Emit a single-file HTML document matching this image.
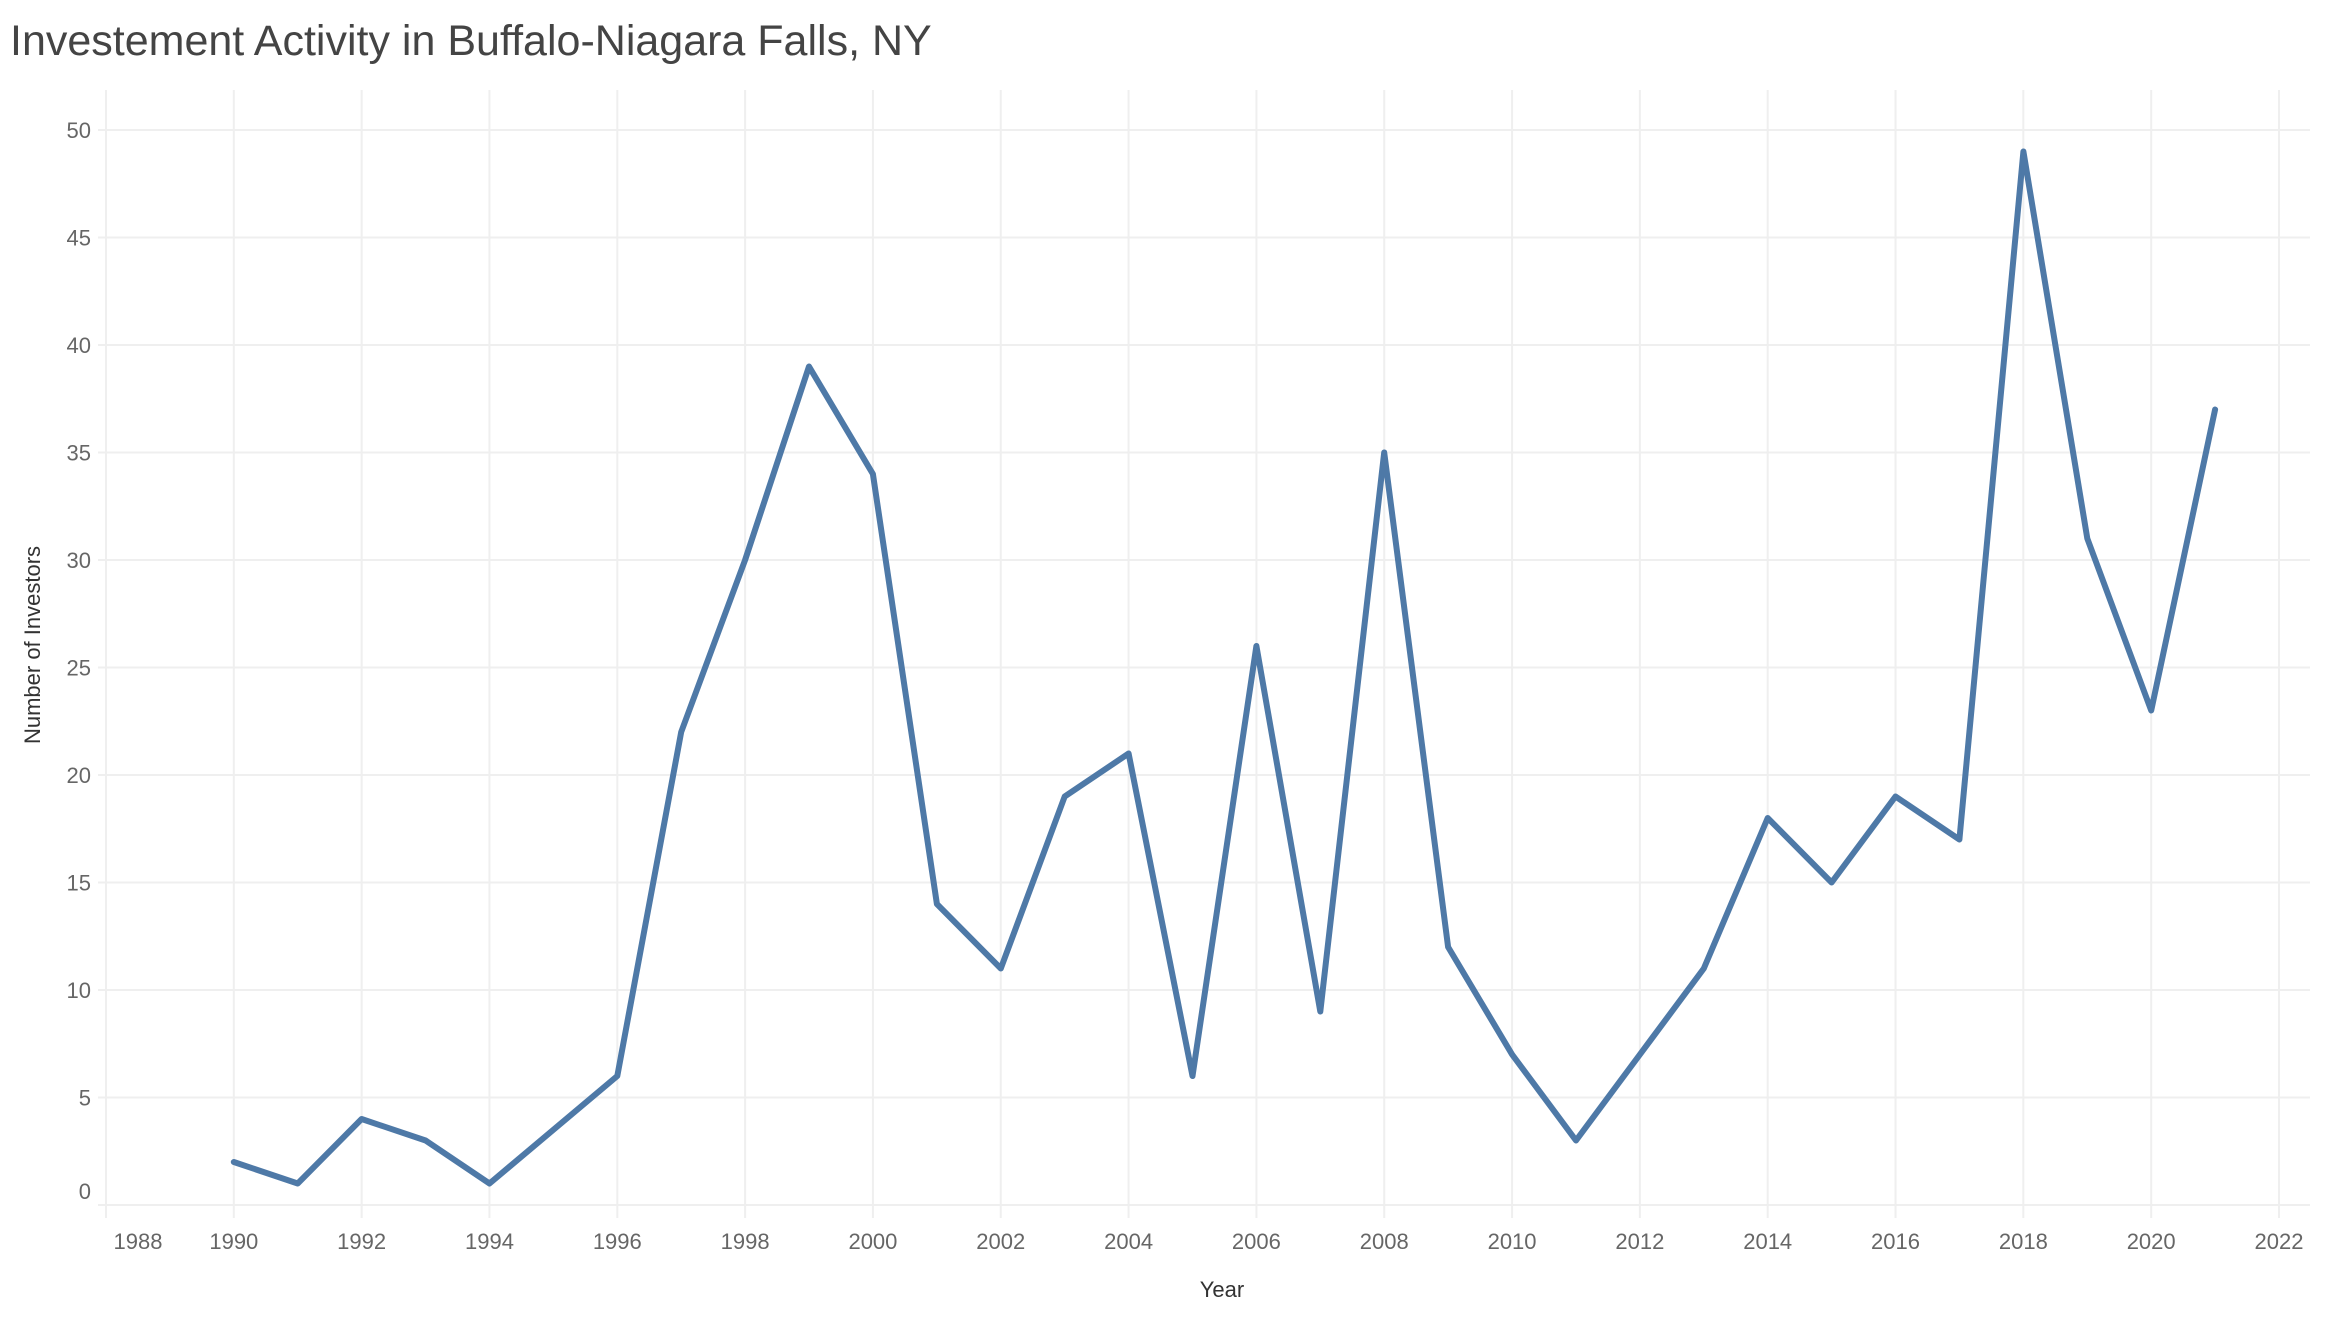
<!DOCTYPE html>
<html><head><meta charset="utf-8"><style>
body{margin:0;background:#fff;}
svg{display:block;font-family:"Liberation Sans",sans-serif;}
</style></head><body>
<svg id="chart" width="2340" height="1320">
<text x="10" y="55" font-size="43" fill="#444">Investement Activity in Buffalo-Niagara Falls, NY</text>
<g id="grid"></g>
<g id="axes"></g>
<path id="line" fill="none" stroke="#4e79a7" stroke-width="6" stroke-linejoin="round" stroke-linecap="round"></path>
<text x="1222" y="1297" font-size="22" fill="#333" text-anchor="middle">Year</text>
<text transform="translate(40,645) rotate(-90)" font-size="22" fill="#333" text-anchor="middle">Number of Investors</text>
</svg>
<script>
const years=[1990,1991,1992,1993,1994,1996,1997,1998,1999,2000,2001,2002,2003,2004,2005,2006,2007,2008,2009,2010,2011,2012,2013,2014,2015,2016,2017,2018,2019,2020,2021];
const investors=[2,1,4,3,1,6,22,30,39,34,14,11,19,21,6,26,9,35,12,7,3,7,11,18,15,19,17,49,31,23,37];
const xTicks=[1988,1990,1992,1994,1996,1998,2000,2002,2004,2006,2008,2010,2012,2014,2016,2018,2020,2022];
const yTicks=[0,5,10,15,20,25,30,35,40,45,50];
const NS="http://www.w3.org/2000/svg";
const x=v=>106+(v-1988)*(2279-106)/34;
const y=v=>1205-v*(1205-130)/50;
const grid=document.getElementById('grid'),axes=document.getElementById('axes');
function mk(tag,attrs,parent){const e=document.createElementNS(NS,tag);for(const k in attrs)e.setAttribute(k,attrs[k]);parent.appendChild(e);return e;}
yTicks.forEach(t=>{
  const l=mk('line',{x1:98,x2:2310,y1:y(t),y2:y(t),stroke:'#efefef','stroke-width':2},grid);
  
  
  const ty=t===0?y(t)-6:y(t)+8;
  const tx=mk('text',{x:91,y:ty,'font-size':22,fill:'#666','text-anchor':'end'},axes);
  tx.textContent=t;
  
  
});
xTicks.forEach(t=>{
  const l=mk('line',{x1:x(t),x2:x(t),y1:90,y2:1218,stroke:'#efefef','stroke-width':2},grid);
  
  
  const tx=mk('text',{x:t===1988?x(t)+32:x(t),y:1249,'font-size':22,fill:'#666','text-anchor':'middle'},axes);
  tx.textContent=t;
  
  
});
document.getElementById('line').setAttribute('d',years.map((yr,i)=>(i?'L':'M')+x(yr).toFixed(1)+','+y(investors[i]).toFixed(1)).join(' '));
</script>
</body></html>
